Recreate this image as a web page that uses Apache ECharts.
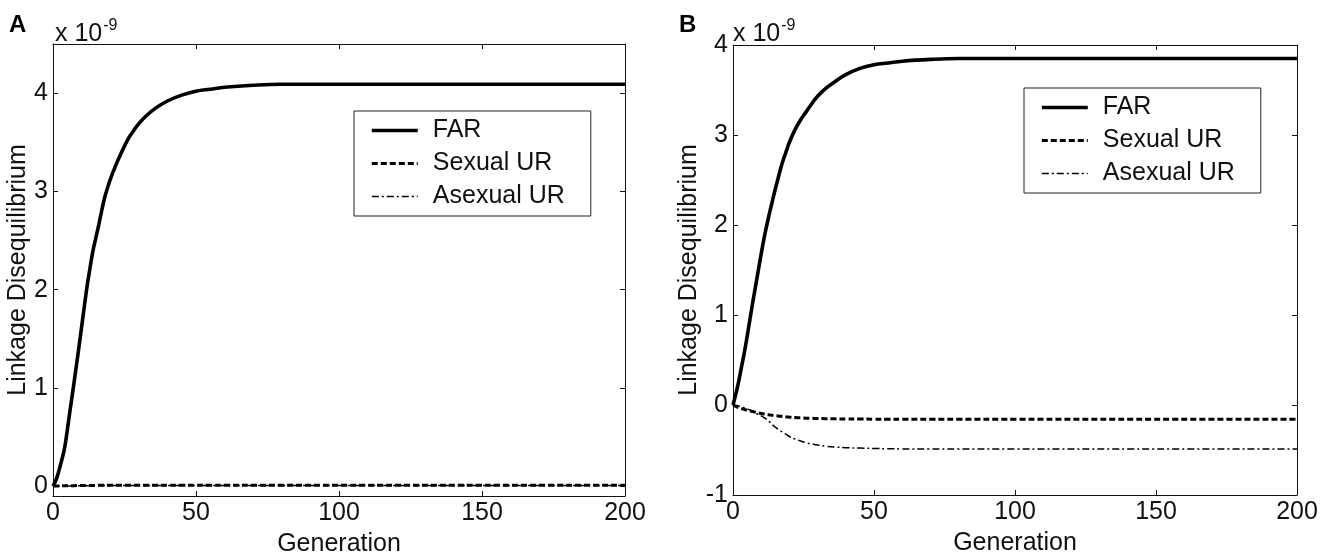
<!DOCTYPE html>
<html>
<head>
<meta charset="utf-8">
<script src="https://cdn.jsdelivr.net/npm/echarts@6/dist/echarts.min.js"></script>
<style>
  html, body { margin: 0; padding: 0; background: #fff; }
  #chart { width: 1334px; height: 557px; }
</style>
</head>
<body>
<div id="chart"></div>
<script>
// Generation at which each value below was sampled
const GEN = [0, 1, 2, 3, 4, 5, 6, 7, 8, 9, 10, 11, 12, 13, 14, 15, 16, 17, 18, 19, 20, 22, 24, 26, 28, 30, 33, 36, 40, 45, 50, 55, 60, 70, 80, 100, 150, 200];

// Panel A: linkage disequilibrium (units of 1e-9)
const FAR_A  = [0, 0.06, 0.15, 0.26, 0.38, 0.57, 0.78, 0.98, 1.19, 1.40, 1.62, 1.84, 2.05, 2.23, 2.40, 2.53, 2.66, 2.80, 2.93, 3.03, 3.12, 3.27, 3.40, 3.52, 3.61, 3.69, 3.78, 3.85, 3.92, 3.98, 4.02, 4.04, 4.06, 4.08, 4.09, 4.09, 4.09, 4.09];
const SEX_A  = [0, 0.001, 0.002, 0.003, 0.004, 0.004, 0.005, 0.005, 0.006, 0.006, 0.007, 0.007, 0.008, 0.008, 0.008, 0.008, 0.009, 0.009, 0.009, 0.009, 0.009, 0.01, 0.01, 0.01, 0.01, 0.01, 0.01, 0.01, 0.01, 0.01, 0.01, 0.01, 0.01, 0.01, 0.01, 0.01, 0.01, 0.01];
const ASEX_A = [0, 0.001, 0.001, 0.002, 0.002, 0.003, 0.003, 0.003, 0.004, 0.004, 0.004, 0.005, 0.005, 0.005, 0.005, 0.006, 0.006, 0.006, 0.006, 0.006, 0.006, 0.007, 0.007, 0.007, 0.007, 0.007, 0.007, 0.007, 0.008, 0.008, 0.008, 0.008, 0.008, 0.008, 0.008, 0.008, 0.008, 0.008];

// Panel B: linkage disequilibrium (units of 1e-9)
const FAR_B  = [0, 0.12, 0.26, 0.42, 0.58, 0.76, 0.95, 1.14, 1.32, 1.50, 1.68, 1.85, 2.00, 2.14, 2.27, 2.40, 2.52, 2.64, 2.74, 2.83, 2.92, 3.06, 3.17, 3.26, 3.35, 3.43, 3.52, 3.59, 3.67, 3.74, 3.78, 3.80, 3.82, 3.84, 3.85, 3.85, 3.85, 3.85];
const SEX_B  = [0, -0.015, -0.03, -0.04, -0.05, -0.058, -0.065, -0.073, -0.08, -0.088, -0.095, -0.1, -0.105, -0.11, -0.115, -0.119, -0.122, -0.126, -0.13, -0.133, -0.135, -0.139, -0.143, -0.146, -0.148, -0.15, -0.152, -0.154, -0.155, -0.156, -0.157, -0.157, -0.158, -0.158, -0.158, -0.158, -0.158, -0.158];
const ASEX_B = [0, -0.005, -0.01, -0.02, -0.03, -0.042, -0.055, -0.072, -0.09, -0.105, -0.12, -0.14, -0.16, -0.19, -0.22, -0.245, -0.27, -0.29, -0.31, -0.33, -0.35, -0.378, -0.4, -0.42, -0.433, -0.445, -0.458, -0.467, -0.474, -0.479, -0.483, -0.486, -0.488, -0.49, -0.49, -0.49, -0.49, -0.49];

// Tick labels
const X_TICKS   = [0, 50, 100, 150, 200];
const Y_TICKS_A = [0, 1, 2, 3, 4];
const Y_TICKS_B = [-1, 0, 1, 2, 3, 4];

const FONT = "'Liberation Sans', Arial, Helvetica, sans-serif";
const INK = '#111';
const FS = 25;

const pairs = (vals) => GEN.map((g, i) => [g, vals[i]]);

const STYLE = {
  'FAR':        { width: 3.6, type: 'solid' },
  'Sexual UR':  { width: 3,   type: [6, 3] },
  'Asexual UR': { width: 1.5, type: [7, 3, 2, 3] }
};

function lineSeries(name, vals, axisIdx) {
  return {
    type: 'line',
    name: name,
    data: pairs(vals),
    xAxisIndex: axisIdx,
    yAxisIndex: axisIdx,
    smooth: 0.4,
    symbol: 'none',
    showSymbol: false,
    z: name === 'FAR' ? 3 : 4,
    lineStyle: { color: '#000', width: STYLE[name].width, type: STYLE[name].type, cap: 'butt' },
    itemStyle: { color: '#000' },
    emphasis: { disabled: true }
  };
}

function bottomAxis(gridIndex) {
  return {
    type: 'value', gridIndex: gridIndex, position: 'bottom',
    min: 0, max: 200, interval: 50,
    name: 'Generation', nameLocation: 'middle', nameGap: 36,
    nameTextStyle: { fontFamily: FONT, fontSize: FS, color: INK },
    axisLine: { show: true, onZero: false, lineStyle: { color: INK, width: 1 } },
    axisTick: { show: true, inside: true, length: 5, lineStyle: { color: INK }, customValues: X_TICKS },
    axisLabel: { fontFamily: FONT, fontSize: FS, color: INK, margin: 5, customValues: X_TICKS },
    splitLine: { show: false }
  };
}

function topAxis(gridIndex) {
  return {
    type: 'value', gridIndex: gridIndex, position: 'top',
    min: 0, max: 200, interval: 50,
    axisLine: { show: true, onZero: false, lineStyle: { color: INK, width: 1 } },
    axisTick: { show: true, inside: true, length: 5, lineStyle: { color: INK }, customValues: X_TICKS },
    axisLabel: { show: false },
    splitLine: { show: false }
  };
}

function leftAxis(gridIndex, min, max, ticks, gap) {
  return {
    type: 'value', gridIndex: gridIndex, position: 'left',
    min: min, max: max,
    name: 'Linkage Disequilibrium', nameLocation: 'middle', nameGap: gap, nameRotate: 90,
    nameTextStyle: { fontFamily: FONT, fontSize: FS, color: INK },
    axisLine: { show: true, onZero: false, lineStyle: { color: INK, width: 1 } },
    axisTick: { show: true, inside: true, length: 5, lineStyle: { color: INK }, customValues: ticks },
    axisLabel: { fontFamily: FONT, fontSize: FS, color: INK, margin: 5, customValues: ticks },
    splitLine: { show: false }
  };
}

function rightAxis(gridIndex, min, max, ticks) {
  return {
    type: 'value', gridIndex: gridIndex, position: 'right',
    min: min, max: max,
    axisLine: { show: true, onZero: false, lineStyle: { color: INK, width: 1 } },
    axisTick: { show: true, inside: true, length: 5, lineStyle: { color: INK }, customValues: ticks },
    axisLabel: { show: false },
    splitLine: { show: false }
  };
}

function legendBox(left, top) {
  return {
    orient: 'vertical',
    left: left, top: top,
    data: [
      { name: 'FAR', lineStyle: { width: 3.6 } },
      { name: 'Sexual UR', lineStyle: { width: 3 } },
      { name: 'Asexual UR', lineStyle: { width: 1.5 } }
    ],
    itemWidth: 46, itemHeight: 24, itemGap: 8,
    padding: [7, 26, 7, 16],
    borderColor: '#222', borderWidth: 1,
    backgroundColor: '#fff',
    selectedMode: false,
    itemStyle: { opacity: 0 },
    textStyle: { fontFamily: FONT, fontSize: FS, color: INK, padding: [0, 0, 0, 10] }
  };
}

function exponentLabel(left, top) {
  return {
    left: left, top: top,
    text: 'x 10{sup|-9}',
    textStyle: {
      fontFamily: FONT, fontSize: FS, fontWeight: 'normal', color: INK,
      rich: { sup: { fontFamily: FONT, fontSize: 16, color: INK, verticalAlign: 'top', padding: [0, 0, 16, 1] } }
    }
  };
}

function panelLetter(left, top, letter) {
  return {
    left: left, top: top, text: letter,
    textStyle: { fontFamily: FONT, fontSize: 24, fontWeight: 'bold', color: '#000' }
  };
}

const chart = echarts.init(document.getElementById('chart'), null, { renderer: 'canvas' });

chart.setOption({
  animation: false,
  backgroundColor: '#fff',
  title: [
    panelLetter(4, 8, 'A'),
    panelLetter(674, 8, 'B'),
    exponentLabel(50, 13),
    exponentLabel(728, 13)
  ],
  grid: [
    { left: 53, top: 44, width: 572, height: 452, containLabel: false, outerBoundsMode: 'none' },
    { left: 733, top: 45, width: 564, height: 450, containLabel: false, outerBoundsMode: 'none' }
  ],
  xAxis: [bottomAxis(0), bottomAxis(1), topAxis(0), topAxis(1)],
  yAxis: [
    leftAxis(0, -0.1, 4.5, Y_TICKS_A, 18),
    leftAxis(1, -1, 4, Y_TICKS_B, 28),
    rightAxis(0, -0.1, 4.5, Y_TICKS_A),
    rightAxis(1, -1, 4, Y_TICKS_B)
  ],
  legend: [legendBox(354, 111), legendBox(1024, 88)],
  series: [
    lineSeries('FAR', FAR_A, 0),
    lineSeries('Sexual UR', SEX_A, 0),
    lineSeries('Asexual UR', ASEX_A, 0),
    lineSeries('FAR', FAR_B, 1),
    lineSeries('Sexual UR', SEX_B, 1),
    lineSeries('Asexual UR', ASEX_B, 1)
  ]
});
</script>
</body>
</html>
